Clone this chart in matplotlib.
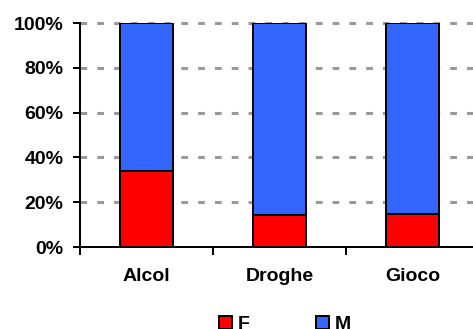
import matplotlib
matplotlib.use("Agg")
import matplotlib.pyplot as plt
import matplotlib.patches as mpatches
import numpy as np

# ------------------------------- DATA ------------------------------- #
categories = ["Alcol", "Droghe", "Gioco"]
female = [34.0, 14.3, 14.9]
male = [100 - f for f in female]
series_names = ["F", "M"]
colours = ["#FF0000", "#3366FF"]

plt.rcParams["font.family"] = ["Liberation Sans", "DejaVu Sans"]
plt.rcParams["font.weight"] = "bold"

W, H = 473, 329
fig = plt.figure(figsize=(W / 100, H / 100), dpi=100)
ax = fig.add_axes((80 / W, 1 - 247 / H, 399 / W, 224 / H))

x = np.arange(len(categories))
ax.bar(x, female, width=0.4, color=colours[0], edgecolor="black", linewidth=1.4, zorder=3)
ax.bar(x, male, width=0.4, bottom=female, color=colours[1], edgecolor="black", linewidth=1.4, zorder=3)

ax.set_xlim(-0.5, 2.5)
ax.set_ylim(0, 100)

# dashed grey grid behind bars
yt = np.arange(0, 101, 20)
for v in yt[1:]:
    ax.axhline(v, color="#999999", linewidth=2.2, linestyle=(0, (2.2, 3.3)), zorder=1, clip_on=False)

ax.set_yticks(yt)
ax.set_yticklabels([f"{v}%" for v in yt], fontsize=14, fontweight="bold")
ax.tick_params(axis="y", direction="out", length=5, width=1.44, pad=7)

ax.set_xticks([-0.5, 0.5, 1.5, 2.5])
ax.set_xticklabels([])
ax.tick_params(axis="x", which="major", direction="out", length=5.8, width=1.44)
ax.set_xticks(x, minor=True)
ax.set_xticklabels(categories, minor=True, fontsize=14, fontweight="bold")
ax.tick_params(axis="x", which="minor", length=0, pad=15)

for s in ["top", "right"]:
    ax.spines[s].set_visible(False)
ax.spines["left"].set_linewidth(1.44)
ax.spines["bottom"].set_linewidth(1.44)

handles = [mpatches.Patch(facecolor=c, edgecolor="black", linewidth=1.4) for c in colours]
fig.legend(handles, series_names, loc="upper left", bbox_to_anchor=(219 / W, 1 - 316 / H),
           bbox_transform=fig.transFigure, ncol=2, frameon=False, borderpad=0, borderaxespad=0,
           handlelength=0.67, handleheight=0.67, handletextpad=0.31, columnspacing=3.4,
           prop={"size": 14, "weight": "bold"})

fig.savefig("out.png", dpi=100)
